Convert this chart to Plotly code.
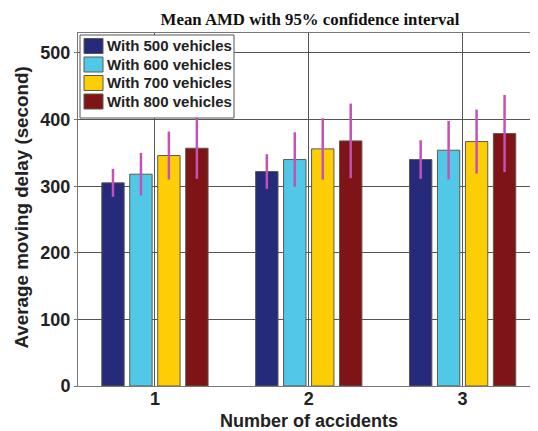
import plotly.graph_objects as go

accidents = [1, 2, 3]
series_names = ["With 500 vehicles", "With 600 vehicles", "With 700 vehicles", "With 800 vehicles"]
delay_500 = [305, 322, 340]
delay_600 = [318, 340, 354]
delay_700 = [346, 356, 367]
delay_800 = [357, 368, 379]
ci_500 = [21, 26, 29]
ci_600 = [32, 41, 44]
ci_700 = [36, 46, 48]
ci_800 = [46, 56, 58]
y_ticks = [0, 100, 200, 300, 400, 500]

colors = ["#252A7B", "#52C8E8", "#FDCD05", "#7E1416"]
values = [delay_500, delay_600, delay_700, delay_800]
cis = [ci_500, ci_600, ci_700, ci_800]

# page offset of the figure inside the browser window (default body margin)
OFF = 8
W, H = 538 - OFF, 431 - OFF
L, R, T = 78 - OFF, 0, 33 - OFF
B = H - (386 - OFF)
pw, ph = W - L - R, H - T - B


def px(x):
    return (x - OFF - L) / pw


def py(y):
    return (H - B - (y - OFF)) / ph


fig = go.Figure()
for name, vals, ci, col in zip(series_names, values, cis, colors):
    fig.add_trace(go.Bar(
        x=accidents, y=vals, name=name, showlegend=False,
        marker=dict(color=col, line=dict(color="#5a5a4a", width=1)),
        error_y=dict(type="data", array=ci, visible=True, color="#C452B4", thickness=2.5, width=0),
    ))

font_family = "Arial, Liberation Sans, sans-serif"
tick_font = dict(family=font_family, size=18, color="#222", weight="bold")

shapes = [dict(type="rect", xref="paper", yref="paper", x0=px(80), x1=px(234), y0=py(118), y1=py(35),
               line=dict(color="#555", width=1), fillcolor="white", layer="above")]
annotations = []
row_y = [46, 64.5, 83, 101.5]
for name, col, ry in zip(series_names, colors, row_y):
    shapes.append(dict(type="rect", xref="paper", yref="paper", x0=px(84), x1=px(103),
                       y0=py(ry + 7.5), y1=py(ry - 7.5), line=dict(color="#5a5a4a", width=1),
                       fillcolor=col, layer="above"))
    annotations.append(dict(text=name, xref="paper", yref="paper", x=px(105), y=py(ry),
                            xanchor="left", yanchor="middle", showarrow=False,
                            font=dict(family=font_family, size=15, color="#222", weight="bold")))

annotations.append(dict(text="Average moving delay (second)", xref="paper", yref="paper",
                        x=px(20.5), y=py(208), textangle=-90, xanchor="center", yanchor="middle",
                        showarrow=False,
                        font=dict(family=font_family, size=18.8, color="#222", weight="bold")))
annotations.append(dict(text="Number of accidents", xref="paper", yref="paper",
                        x=px(309), y=py(421), xanchor="center", yanchor="middle",
                        showarrow=False,
                        font=dict(family=font_family, size=18, color="#222", weight="bold")))

fig.update_layout(
    width=W, height=H,
    margin=dict(l=L, r=R, t=T, b=B, autoexpand=False),
    paper_bgcolor="white", plot_bgcolor="white",
    barmode="group", bargap=0.273, bargroupgap=0.2,
    title=dict(text="Mean AMD with 95% confidence interval", x=(310 - OFF) / W, xanchor="center",
               y=1 - (19 - OFF) / H, yanchor="middle",
               font=dict(family="Times New Roman, Liberation Serif, serif", size=16.8, color="#111", weight="bold")),
    showlegend=False,
    shapes=shapes,
    annotations=annotations,
)
fig.update_xaxes(
    range=[0.5, 3.49], tickvals=accidents, ticktext=[str(a) for a in accidents],
    showgrid=True, gridcolor="#555", gridwidth=1,
    showline=True, linecolor="#777", linewidth=1, mirror=True,
    ticks="", zeroline=False, automargin=False, ticklabelstandoff=-4,
    tickfont=tick_font,
)
fig.update_yaxes(
    range=[0, 530], tickvals=y_ticks,
    showgrid=True, gridcolor="#555", gridwidth=1,
    showline=True, linecolor="#777", linewidth=1, mirror=False,
    ticks="outside", ticklen=3, tickcolor="#777",
    zeroline=False, automargin=False,
    tickfont=tick_font,
)

fig.write_html("out.html")
